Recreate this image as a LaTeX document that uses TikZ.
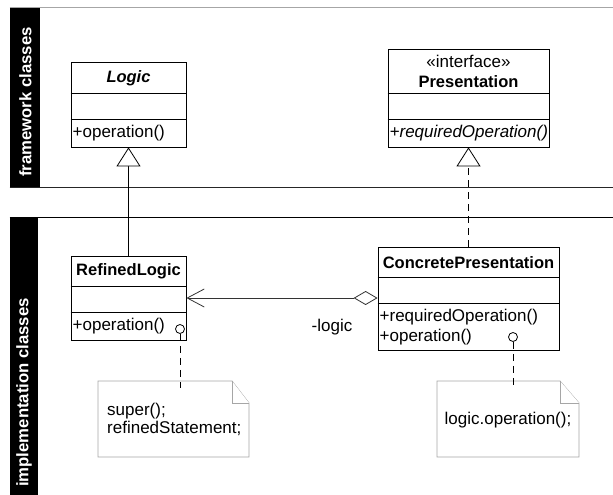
\documentclass[tikz,border=0pt]{standalone}
\usepackage{fontspec}
\setmainfont{Liberation Sans}
\usetikzlibrary{arrows.meta,calc}

\tikzset{
  classbox/.style={draw=black, line width=0.8pt, fill=white, inner sep=0pt},
  classname/.style={font=\fontsize{16.5}{19}\selectfont\bfseries, inner sep=0pt},
  member/.style={font=\fontsize{17}{20}\selectfont, inner sep=0pt, anchor=west},
  stereo/.style={font=\fontsize{17}{20}\selectfont, inner sep=0pt},
  sidebar/.style={fill=black, draw=none},
  sidetext/.style={rotate=90, text=white, font=\fontsize{16.7}{19}\selectfont\bfseries, inner sep=0pt},
  notebox/.style={draw=gray!70, line width=0.8pt, fill=white},
  notetext/.style={font=\fontsize{17}{18}\selectfont, inner sep=0pt, align=left},
  lollipop/.style={circle, draw=black, fill=white, line width=0.8pt, minimum size=9pt, inner sep=0pt},
  generalize/.style={line width=0.8pt, -{Triangle[open, length=19pt, width=24pt, fill=white]}},
  realize/.style={generalize, dash pattern=on 7pt off 5pt},
  anchorline/.style={line width=0.8pt, dash pattern=on 7pt off 5pt},
  aggregate/.style={line width=0.8pt, draw=black!80,
    {Diamond[open, length=24pt, width=14pt, fill=white]}-{Straight Barb[length=17pt, width=18pt, line width=0.8pt]}},
}

\begin{document}
\begin{tikzpicture}[x=1pt, y=-1pt]
\useasboundingbox (0,0) rectangle (613,495);

% ---- package bands ----
\fill[sidebar] (9.5,7) rectangle (40,187.5);
\fill[sidebar] (9.5,217) rectangle (37.5,495);
\draw[gray!70, line width=1.6pt] (9.5,7.5) -- (613,7.5);
\draw[black!85, line width=0.8pt] (9.5,187.5) -- (613,187.5);
\draw[black, line width=0.8pt] (9.5,217) -- (613,217);
\node[sidetext] (fwlabel) at (25.5,102) {framework classes};
\node[sidetext] (imlabel) at (24,392.5) {implementation classes};

% ---- framework classes ----
\node[classbox, minimum width=115pt, minimum height=85pt] (logic) at (128.5,104.5) {};
\draw[line width=0.8pt] ($(logic.north west)+(0,32)$) -- ($(logic.north east)+(0,32)$);
\draw[line width=0.8pt] ($(logic.north west)+(0,58)$) -- ($(logic.north east)+(0,58)$);
\node[classname, font=\fontsize{16.5}{19}\selectfont\bfseries\itshape] (logicname) at (128.5,78) {Logic};
\node[member] (logicop) at (72.5,133.5) {+operation()};

\node[classbox, minimum width=161pt, minimum height=98pt] (pres) at (468.5,98) {};
\draw[line width=0.8pt] ($(pres.north west)+(0,45)$) -- ($(pres.north east)+(0,45)$);
\draw[line width=0.8pt] ($(pres.north west)+(0,71)$) -- ($(pres.north east)+(0,71)$);
\node[stereo] (presstereo) at (468.5,61) {«interface»};
\node[classname] (presname) at (468.5,81.5) {Presentation};
\node[member, font=\fontsize{17}{20}\selectfont\itshape] (presop) at (389.5,133.5) {+requiredOperation()};

% ---- implementation classes ----
\node[classbox, minimum width=115pt, minimum height=84pt] (refined) at (128.5,298) {};
\draw[line width=0.8pt] ($(refined.north west)+(0,31)$) -- ($(refined.north east)+(0,31)$);
\draw[line width=0.8pt] ($(refined.north west)+(0,57)$) -- ($(refined.north east)+(0,57)$);
\node[classname] (refinedname) at (128.5,271.5) {RefinedLogic};
\node[member] (refinedop) at (72.5,326.5) {+operation()};

\node[classbox, minimum width=181pt, minimum height=103pt] (concrete) at (468.5,298.5) {};
\draw[line width=0.8pt] ($(concrete.north west)+(0,31)$) -- ($(concrete.north east)+(0,31)$);
\draw[line width=0.8pt] ($(concrete.north west)+(0,57)$) -- ($(concrete.north east)+(0,57)$);
\node[classname] (concretename) at (468.5,262.5) {ConcretePresentation};
\node[member] (concreteop1) at (379.5,317) {+requiredOperation()};
\node[member] (concreteop2) at (379.5,337) {+operation()};

% ---- notes ----
\draw[notebox] (98,381) -- (232,381) -- (249,403) -- (249,457) -- (98,457) -- cycle;
\draw[notebox] (232,381) -- (232,403) -- (249,403);
\coordinate (noteL) at (180,388);
\node[notetext, anchor=north west] (noteLtext) at (107,403) {super();\\refinedStatement;};

\draw[notebox] (437,381) -- (560,381) -- (579,403) -- (579,457) -- (437,457) -- cycle;
\draw[notebox] (560,381) -- (560,403) -- (579,403);
\coordinate (noteR) at (513,388);
\node[notetext] (noteRtext) at (508,420) {logic.operation();};

% ---- note anchors ----
\node[lollipop] (lolL) at (180,329) {};
\node[lollipop] (lolR) at (513,337) {};
\draw[anchorline] (lolL.south) -- (noteL);
\draw[anchorline] (lolR.south) -- (noteR);

% ---- relations ----
\draw[generalize] (refined.north -| logic.south) -- (logic.south);
\draw[realize] (concrete.north) -- (pres.south);
\draw[aggregate] (concrete.west |- 0,298) -- (refined.east |- 0,298);
\node[stereo] (rolelabel) at (332,327) {-logic};
\end{tikzpicture}
\end{document}
